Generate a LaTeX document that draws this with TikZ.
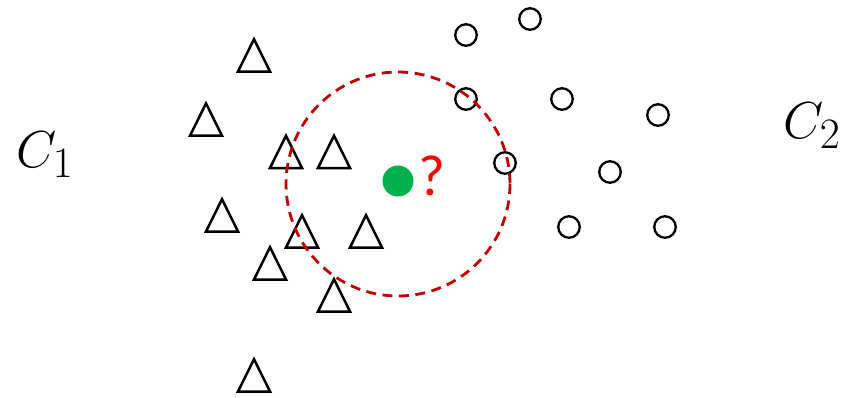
\documentclass[tikz,border=0pt]{standalone}
\usepackage{fontspec}
\newfontfamily\qfont{Carlito}
\usetikzlibrary{positioning}
\definecolor{darkred}{HTML}{C00000}
\definecolor{querygreen}{HTML}{00B050}

\tikzset{
    sample/.style={draw=black, line width=2.3pt, circle, inner sep=0pt, minimum size=21.5pt},
    tri/.style={draw=black, line width=2.5pt, line join=miter},
    classlabel/.style={inner sep=0pt, font=\Huge}
}
\newcommand{\biglabel}[1]{\scalebox{2.09}{$#1$}}

\begin{document}
\begin{tikzpicture}[x=1pt, y=-1pt]
        \useasboundingbox (0,0) rectangle (843,397);

        % class C1: triangles
        \foreach \name/\px/\py in {t1/254/55.5, t2/206/119.7, t3/286/152, t4/334/152,
                                   t5/222/215.5, t6/302/231.5, t7/366/231.5,
                                   t8/270/263.5, t9/334/295.5, t10/254/375.5} {
            \coordinate (\name) at (\px,\py);
            \draw[tri] (\name) ++(-16,16) -- ++(16,-32.3) -- ++(16,32.3) -- cycle;
        }

        % class C2: circles
        \foreach \name/\px/\py in {c1/466/35, c2/530/19, c3/466/99, c4/562/99,
                                   c5/658/115, c6/505/163, c7/610/172,
                                   c8/569/227, c9/665/227} {
            \node[sample] (\name) at (\px,\py) {};
        }

        % query point and its neighbourhood
        \node[circle, fill=querygreen, inner sep=0pt, minimum size=31pt] (query) at (398,181) {};
        \draw[darkred, line width=2.8pt, dash pattern=on 10pt off 6.5pt] (398,184) circle (112);
        \node[right=5pt of query, yshift=5.5pt, inner sep=0pt, text=red, font=\qfont\fontsize{58}{62}\selectfont] (mark) {?};

        \node[classlabel] (cone) at (45,155) {\biglabel{C_1}};
        \node[classlabel] (ctwo) at (812,126) {\biglabel{C_2}};
    \end{tikzpicture}
\end{document}
